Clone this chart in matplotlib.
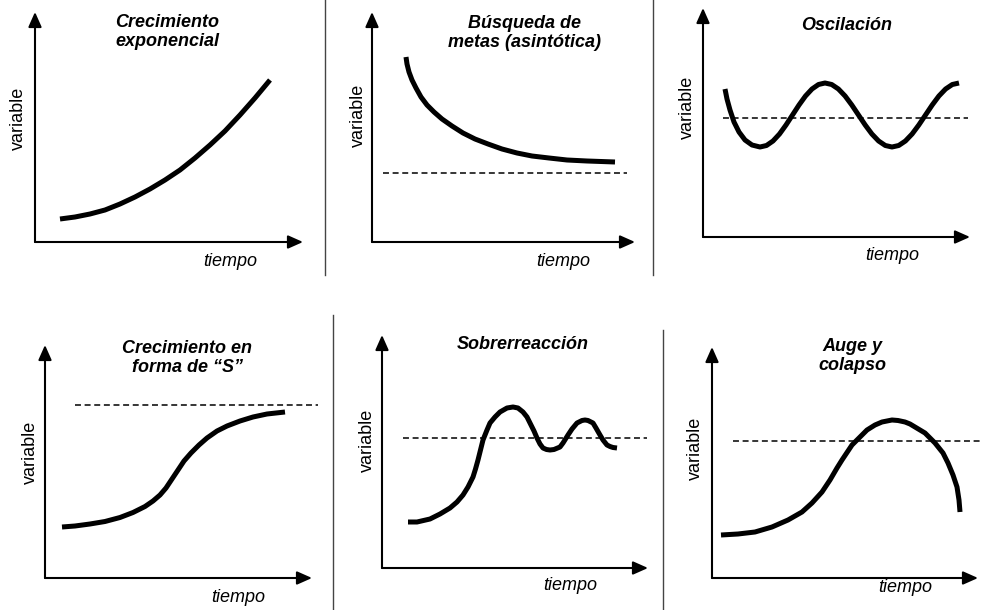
import matplotlib
matplotlib.use("Agg")
import matplotlib.pyplot as plt
from matplotlib.lines import Line2D

plt.rcParams['font.family'] = ['Liberation Sans', 'DejaVu Sans']

# panel titles
titles = ['Crecimiento\nexponencial', 'Búsqueda de\nmetas (asintótica)', 'Oscilación',
          'Crecimiento en\nforma de “S”', 'Sobrerreacción', 'Auge y\ncolapso']

# curves (tiempo, variable) in panel units
exp_t = [25, 40, 55, 70, 85, 100, 115, 130, 145, 160, 175, 190, 205, 220, 235]
exp_v = [23, 25, 28, 32, 38, 45, 53, 62, 72, 84, 97, 111, 127, 144, 162]

goal_t = [34, 35, 37, 40, 44, 49, 55, 62, 70, 80, 91, 103, 116, 130, 145, 160, 177, 195, 215, 243]
goal_v = [185, 178, 170, 162, 154, 145, 137, 130, 123, 116, 109, 103, 98, 93, 89, 86, 84, 82, 81, 80]

osc_t = [22, 24, 27, 31, 36, 42, 49, 57, 63.5, 70, 76.5, 83, 89.5, 96, 102.5, 109, 115.5, 122,
         128.7, 135.4, 142.1, 148.8, 155.5, 162.2, 168.9, 175.6, 182.3, 189,
         195.7, 202.4, 209.1, 215.8, 222.5, 229.2, 235.9, 242.6, 249.3, 256]
osc_v = [148, 138, 127, 115, 105, 97, 92, 90, 91.5, 96, 103, 112, 122, 132, 141, 148, 152.5, 154,
         152.5, 148, 141, 132, 122, 112, 103, 96, 91.5, 90,
         91.5, 96, 103, 112, 122, 132, 141, 148, 152.5, 154]

s_t = [17, 30, 45, 60, 75, 88, 100, 108, 115, 121, 127, 133, 139, 146, 154, 162, 172, 182,
       195, 208, 222, 240]
s_v = [51, 52, 54, 56.5, 60.5, 65.5, 71.5, 77, 83, 90, 99, 108, 117, 125, 133, 140, 147, 152,
       157, 161, 164, 166]

over_t = [26, 35, 48, 58, 68, 75, 81, 86, 91, 93.5, 96, 98.5, 101, 103, 105, 108, 113, 118,
          125, 131, 136, 141, 145, 148, 152, 155, 158, 161, 164.5, 168, 172, 178, 181, 186,
          190, 195, 200, 203, 206, 211, 214, 218, 221, 225, 228, 231, 235]
over_v = [46, 46, 49, 54, 60, 66, 73, 81, 91, 99, 108, 118, 128, 133, 138, 145, 151, 156,
          160, 161, 160, 156, 151, 145, 137, 130, 124, 120, 118.5, 118, 118.5, 121, 125, 133,
          139, 145, 147.5, 148, 147.5, 145, 140, 133, 128, 123, 121.5, 120.5, 120]

boom_t = [9, 26, 43, 60, 76, 90, 100, 110, 118, 125, 130, 140, 150, 155, 163, 170, 180, 186,
          193, 198, 203, 213, 223, 231, 236, 241, 245, 247, 248]
boom_v = [43, 44, 46, 51, 58, 66, 75, 86, 98, 110, 118, 133, 143, 148, 153, 156, 158, 157.5,
          156, 154, 151, 145, 135, 125, 115, 103, 91, 78, 66]

curves_t = [exp_t, goal_t, osc_t, s_t, over_t, boom_t]
curves_v = [exp_v, goal_v, osc_v, s_v, over_v, boom_v]

# reference (dashed) level and its extent, None where there is none
ref_level = [None, 69, 119, 173, 130, 137]
ref_span = [None, (11, 255), (20, 265), (30, 273), (21, 265), (21, 269)]

# panel layout in pixels: axis corner x, corner y, axis length x, axis length y
corner_x = [35, 372, 703, 45, 382, 712]
corner_y = [242, 242, 237, 578, 568, 578]
len_x = [268, 263, 267, 267, 266, 266]
len_y = [230, 230, 229, 233, 233, 231]

# label positions relative to the corner
title_pos = [(132, 210), (153, 209), (144, 212), (142, 220), (141, 223), (140, 222)]
var_pos = [(-17, 124), (-14, 127), (-16, 130), (-15, 126), (-15, 128), (-17, 130)]
time_pos = [(195, -20), (191, -20), (189, -18), (193, -20), (188, -17), (193, -10)]

W, H = 981, 610
fig = plt.figure(figsize=(W / 100, H / 100), dpi=100)

for i in range(6):
    ax = fig.add_axes([corner_x[i] / W, (H - corner_y[i]) / H, len_x[i] / W, len_y[i] / H])
    ax.set_xlim(0, len_x[i])
    ax.set_ylim(0, len_y[i])
    ax.axis('off')

    arrow = dict(arrowstyle='-|>,head_length=0.45,head_width=0.2', lw=1.5, color='black',
                 mutation_scale=20, shrinkA=0, shrinkB=0)
    ax.annotate('', xy=(len_x[i], 0), xytext=(0, 0), arrowprops=arrow, annotation_clip=False)
    ax.annotate('', xy=(0, len_y[i]), xytext=(0, 0), arrowprops=arrow, annotation_clip=False)

    if ref_level[i] is not None:
        x1, x2 = ref_span[i]
        ax.plot([x1, x2], [ref_level[i], ref_level[i]], color='black', lw=1.1,
                linestyle=(0, (3.9, 2.4)), clip_on=False)

    ax.plot(curves_t[i], curves_v[i], color='black', lw=3.6,
            solid_capstyle='butt', solid_joinstyle='round', clip_on=False)

    ax.text(title_pos[i][0], title_pos[i][1], titles[i], ha='center', va='center',
            fontsize=13, fontweight='bold', fontstyle='italic', linespacing=1.15,
            clip_on=False)
    ax.text(var_pos[i][0], var_pos[i][1], 'variable', ha='center', va='center',
            rotation=90, fontsize=13, clip_on=False)
    ax.text(time_pos[i][0], time_pos[i][1], 'tiempo', ha='center', va='center',
            fontsize=13, fontstyle='italic', clip_on=False)

# thin separators between panels
for x, y1, y2 in [(325, 0, 275), (653, 0, 275), (333, 315, 610), (663, 330, 610)]:
    fig.add_artist(Line2D([x / W, x / W], [1 - y1 / H, 1 - y2 / H], color='#444444', lw=1.0))

fig.savefig('out.png', dpi=100)
